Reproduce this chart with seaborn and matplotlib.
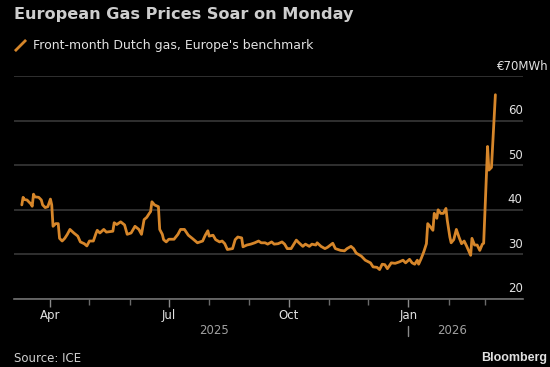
import numpy as np
import pandas as pd
import seaborn as sns
import matplotlib
matplotlib.use("Agg")
import matplotlib.pyplot as plt
import matplotlib.dates as mdates
import matplotlib.transforms as mtransforms
from matplotlib.lines import Line2D
from matplotlib.path import Path

# front-month Dutch TTF gas, EUR/MWh
dates = [
    "2025-03-10", "2025-03-11", "2025-03-12", "2025-03-14", "2025-03-17", "2025-03-18", "2025-03-19",
    "2025-03-20", "2025-03-23", "2025-03-25", "2025-03-26", "2025-03-28", "2025-03-30",
    "2025-04-01", "2025-04-02", "2025-04-03", "2025-04-05", "2025-04-07", "2025-04-08", "2025-04-10",
    "2025-04-12", "2025-04-14", "2025-04-16", "2025-04-19", "2025-04-22", "2025-04-24", "2025-04-27",
    "2025-04-29",
    "2025-05-01", "2025-05-04", "2025-05-06", "2025-05-07", "2025-05-09", "2025-05-12", "2025-05-14",
    "2025-05-19", "2025-05-20", "2025-05-22", "2025-05-25", "2025-05-28", "2025-05-30",
    "2025-06-02", "2025-06-05", "2025-06-08", "2025-06-10", "2025-06-12", "2025-06-14", "2025-06-16",
    "2025-06-17", "2025-06-18", "2025-06-20", "2025-06-23", "2025-06-24", "2025-06-26", "2025-06-27",
    "2025-06-29",
    "2025-07-01", "2025-07-05", "2025-07-08", "2025-07-10", "2025-07-13", "2025-07-16", "2025-07-19",
    "2025-07-23", "2025-07-27", "2025-07-29", "2025-07-31",
    "2025-08-01", "2025-08-04", "2025-08-06", "2025-08-09", "2025-08-11", "2025-08-13", "2025-08-15",
    "2025-08-19", "2025-08-21", "2025-08-23", "2025-08-26", "2025-08-27", "2025-08-30",
    "2025-09-02", "2025-09-05", "2025-09-08", "2025-09-10", "2025-09-13", "2025-09-15", "2025-09-18",
    "2025-09-20", "2025-09-23", "2025-09-26", "2025-09-28", "2025-09-30",
    "2025-10-03", "2025-10-07", "2025-10-09", "2025-10-12", "2025-10-14", "2025-10-17", "2025-10-19",
    "2025-10-22", "2025-10-23", "2025-10-26", "2025-10-29", "2025-10-31",
    "2025-11-04", "2025-11-06", "2025-11-10", "2025-11-13", "2025-11-15", "2025-11-18", "2025-11-20",
    "2025-11-22", "2025-11-26", "2025-11-29",
    "2025-12-03", "2025-12-05", "2025-12-08", "2025-12-10", "2025-12-12", "2025-12-14", "2025-12-16",
    "2025-12-19", "2025-12-22", "2025-12-25", "2025-12-28", "2025-12-30",
    "2026-01-02", "2026-01-04", "2026-01-06", "2026-01-08", "2026-01-09", "2026-01-11", "2026-01-13",
    "2026-01-15", "2026-01-16", "2026-01-18", "2026-01-20", "2026-01-21", "2026-01-23", "2026-01-24",
    "2026-01-26", "2026-01-28", "2026-01-30", "2026-01-31",
    "2026-02-02", "2026-02-03", "2026-02-05", "2026-02-07", "2026-02-09", "2026-02-11", "2026-02-13",
    "2026-02-15", "2026-02-18", "2026-02-19", "2026-02-21", "2026-02-23", "2026-02-25", "2026-02-27",
    "2026-02-28",
    "2026-03-03", "2026-03-04", "2026-03-06", "2026-03-09",
]
prices = [
    41.1, 42.8, 42.3, 42.2, 41.3, 40.8, 43.5, 42.9, 42.8, 42.2, 41.1, 40.5, 40.7,
    42.4, 41.1, 36.3, 36.9, 36.9, 33.6, 33.0, 33.6, 34.5, 35.6, 34.8, 34.1, 32.8, 32.4, 31.9,
    33.0, 33.0, 34.7, 35.4, 34.8, 35.6, 35.0, 35.2, 37.1, 36.7, 37.3, 36.6, 34.5,
    34.8, 36.3, 35.6, 34.5, 37.8, 38.3, 39.2, 39.6, 41.8, 41.1, 40.7, 35.6, 34.5, 33.3, 32.8,
    33.4, 33.4, 34.5, 35.6, 35.6, 34.3, 33.6, 32.6, 33.0, 34.3, 35.3,
    34.1, 34.3, 33.3, 32.8, 33.0, 32.4, 31.1, 31.3, 33.3, 33.9, 33.7, 31.7, 32.1,
    32.3, 32.6, 33.0, 32.6, 32.6, 32.3, 32.8, 32.3, 32.4, 32.8, 32.3, 31.3,
    31.3, 33.2, 32.6, 31.8, 32.3, 31.8, 32.3, 32.1, 32.6, 31.8, 31.3, 31.6,
    32.5, 31.3, 30.9, 30.8, 31.3, 31.8, 31.3, 30.3, 29.6, 28.7,
    28.1, 27.2, 27.1, 26.6, 27.8, 27.7, 26.8, 28.1, 28.0, 28.3, 28.7, 28.1,
    28.9, 28.1, 27.8, 28.7, 27.8, 29.1, 30.6, 32.4, 36.9, 36.2, 35.4, 39.2, 38.1, 40.0,
    39.2, 39.2, 40.3, 37.7,
    33.9, 32.6, 33.3, 35.6, 33.9, 32.4, 33.0, 31.8, 29.8, 33.6, 32.1, 32.1, 30.9, 32.3, 32.5,
    54.2, 48.9, 49.5, 65.8,
]
y_ticks = [20, 30, 40, 50, 60, 70]
y_labels = ["20", "30", "40", "50", "60", "€70MWh"]
series_name = "Front-month Dutch gas, Europe's benchmark"
years = [("2025", "2025-08-05"), ("2026", "2026-02-04")]

ORANGE = "#D6862A"
BG = "black"
TXT = "#e2e2e2"

sns.set_theme(style="dark", rc={"axes.facecolor": BG, "figure.facecolor": BG})
plt.rcParams["font.family"] = ["DejaVu Sans"]

df = pd.DataFrame({"date": pd.to_datetime(dates), "price": prices})

fig = plt.figure(figsize=(5.5, 3.67), dpi=100)
ax = fig.add_axes([14 / 550, 68 / 367, 508.7 / 550, 223 / 367])

sns.lineplot(data=df, x="date", y="price", ax=ax, color=ORANGE, linewidth=2, legend=False)

ax.set_xlim(pd.Timestamp("2025-03-04"), pd.Timestamp("2026-03-30"))
ax.set_ylim(20, 70)
ax.set_xlabel("")
ax.set_ylabel("")
for s in ["top", "left", "right"]:
    ax.spines[s].set_visible(False)
ax.spines["bottom"].set_color("#707070")
ax.spines["bottom"].set_linewidth(1.2)

# y axis: labels sit on the right, just above each gridline
ax.set_yticks(y_ticks)
ax.set_yticklabels(y_labels)
ax.yaxis.tick_right()
ax.tick_params(axis="y", length=0, pad=0, labelsize=8.5, labelcolor=TXT)
ax.grid(axis="y", color="#383838", linewidth=1.2)
ax.grid(axis="x", visible=False)
shift = mtransforms.ScaledTranslation(0, 10 / 100, fig.dpi_scale_trans)
for lab in ax.get_yticklabels():
    lab.set_horizontalalignment("center" if lab.get_text().startswith("€") else "right")
    lab.set_verticalalignment("center")
    lab.set_transform(lab.get_transform() + shift)

# x axis: quarter labels, monthly minor ticks
ax.xaxis.set_major_locator(mdates.MonthLocator(bymonth=[1, 4, 7, 10]))
ax.xaxis.set_major_formatter(mdates.DateFormatter("%b"))
ax.xaxis.set_minor_locator(mdates.MonthLocator())
ax.tick_params(axis="x", which="major", direction="out", length=6, width=1,
               color="#8a8a8a", labelsize=8.5, labelcolor=TXT, pad=1, bottom=True)
ax.tick_params(axis="x", which="minor", direction="out", length=4, width=1,
               color="#6a6a6a", bottom=True)

for label, when in years:
    ax.text(pd.Timestamp(when), -0.143, label, transform=ax.get_xaxis_transform(),
            ha="center", va="center", fontsize=8.5, color="#a0a0a0")
ax.axvline(pd.Timestamp("2026-01-01"), ymin=-0.165, ymax=-0.12, color="#8a8a8a",
           linewidth=1, clip_on=False)

# headline, legend, footer
fig.text(14 / 550, 1 - 15 / 367, "European Gas Prices Soar on Monday", ha="left", va="center",
         fontsize=11.6, fontweight="bold", color="#cdcdcd")

slash = Path([(-1, -1), (1, 1)], [Path.MOVETO, Path.LINETO])
handle = Line2D([], [], color=ORANGE, linestyle="none", marker=slash, markersize=8,
                markeredgewidth=2, markeredgecolor=ORANGE)
fig.legend(handles=[handle], labels=[series_name], loc="center left",
           bbox_to_anchor=(14 / 550, 1 - 45.6 / 367), frameon=False, fontsize=9,
           labelcolor=TXT, handlelength=1.0, handletextpad=0.5, borderpad=0, borderaxespad=0)

fig.text(14 / 550, 1 - 358 / 367, "Source: ICE", ha="left", va="center", fontsize=8.5, color="#d0d0d0")
fig.text(547 / 550, 1 - 358 / 367, "Bloomberg", ha="right", va="center", fontsize=9,
         fontweight="bold", color="#e0e0e0", family="Liberation Sans")

fig.savefig("out.png", dpi=100, facecolor=BG)
